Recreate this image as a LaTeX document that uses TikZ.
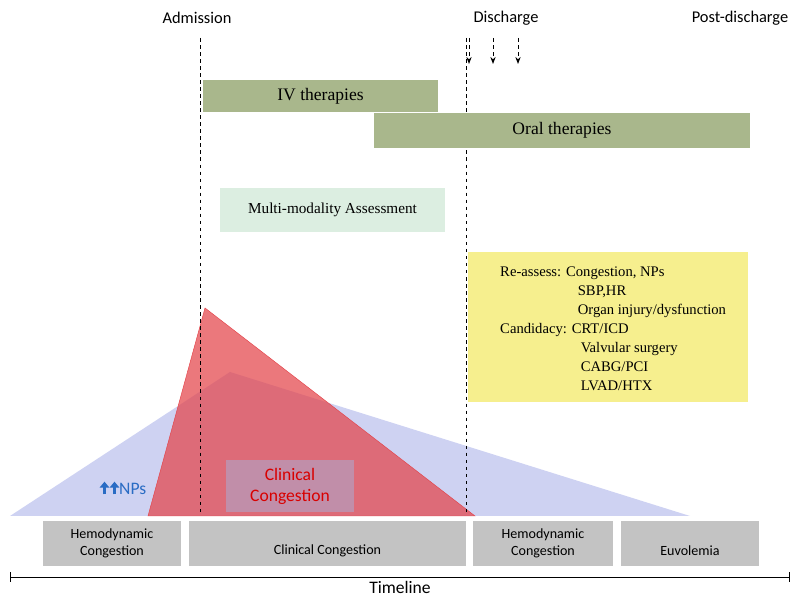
\documentclass[tikz,border=0pt]{standalone}
\usepackage{fontspec}
\setsansfont{Carlito}
\setmainfont{Liberation Serif}
\usetikzlibrary{positioning,arrows.meta}
\definecolor{olivebar}{HTML}{A9B78C}
\definecolor{mintbox}{HTML}{DCEEE1}
\definecolor{notebox}{HTML}{F6EF8E}
\definecolor{stagebox}{HTML}{C3C3C3}
\definecolor{npblue}{HTML}{2A6CC4}
\definecolor{npfill}{HTML}{C5CAF0}
\definecolor{congred}{HTML}{E3444A}
\tikzset{
  therapy/.style={fill=olivebar, draw=none, font=\fontsize{15}{18}\selectfont},
  stage/.style={fill=stagebox, draw=white, line width=1pt, font=\sffamily\fontsize{12}{14}\selectfont, align=center},
  event/.style={font=\sffamily\fontsize{14}{17}\selectfont},
  marker/.style={thick, dashed},
}
\begin{document}
\begin{tikzpicture}[x=0.03cm,y=-0.03cm]
  \useasboundingbox (0,0) rectangle (800,598);
  % draw the congestion triangles
  \fill[npfill, opacity=0.85] (10,516) -- (230,372) -- (690,516) -- cycle;
  \filldraw[fill=congred, draw=congred, fill opacity=0.72] (148,516) -- (205,308) -- (475,516) -- cycle;
  \node[fill=gray!70!blue!50, fill opacity=0.55, text opacity=1, minimum width=3.84cm, minimum height=1.56cm,
        text=red!85!black, font=\sffamily\fontsize{15}{18}\selectfont, align=center] (clin) at (290,486) {Clinical\\Congestion};
  \node[text=npblue, font=\sffamily\fontsize{15}{18}\selectfont] (nps) at (123,488)
    {\tikz[baseline=0pt, x=1cm, y=1cm]{\foreach \i in {0,0.3}\draw[npblue, line width=2.2pt, -{Triangle[length=5pt,width=8pt]}] (\i,0) -- (\i,0.38);}NPs};
  % draw the event labels
  \node[event] (adm) at (197,18) {Admission};
  \node[event] (dis) at (506,18) {Discharge};
  \node[event] (post) at (740,18) {Post-discharge};
  \coordinate (a0) at (200,38); \coordinate (a1) at (200,516);
  \coordinate (d0) at (466,38); \coordinate (d1) at (466,516);
  \draw[marker] (a0) -- (a1);
  \draw[marker] (d0) -- (d1);
  % draw the follow-up arrows
  \foreach \x in {469,493,518}
  {
    \coordinate (f0) at (\x,38); \coordinate (f1) at (\x,64);
    \draw[thick, dashed, -{Stealth[length=6pt]}] (f0) -- (f1);
  }
  % draw the therapies
  \node[therapy, minimum width=7.05cm, minimum height=0.96cm] (iv) at (320.5,96) {IV therapies};
  \node[therapy, minimum width=11.28cm, minimum height=1.05cm] (oral) at (562,130.5) {Oral therapies};
  \node[fill=mintbox, minimum width=6.75cm, minimum height=1.32cm, font=\fontsize{13}{16}\selectfont] (mma) at (332.5,210) {Multi-modality Assessment};
  \node[fill=notebox, minimum width=8.4cm, minimum height=4.5cm] (note) at (608,327) {};
  \node[anchor=north west, align=left, inner sep=0pt, font=\fontsize{12.5}{16.2}\selectfont] (reassess) at (500,267)
    {Re-assess: Congestion, NPs\\
     \hspace*{5.3em}SBP,HR\\
     \hspace*{5.3em}Organ injury/dysfunction\\
     Candidacy: CRT/ICD\\
     \hspace*{5.5em}Valvular surgery\\
     \hspace*{5.5em}CABG/PCI\\
     \hspace*{5.5em}LVAD/HTX};
  % draw the stages
  \node[stage, minimum width=4.2cm, minimum height=1.41cm] (hemo1) at (112,543.5) {Hemodynamic\\Congestion};
  \node[stage, minimum width=8.37cm, minimum height=1.41cm, text height=0.75cm] (clinstage) at (327.5,543.5) {Clinical Congestion};
  \node[stage, minimum width=4.26cm, minimum height=1.41cm] (hemo2) at (543,543.5) {Hemodynamic\\Congestion};
  \node[stage, minimum width=4.2cm, minimum height=1.41cm, text height=0.75cm] (euvo) at (690,543.5) {Euvolemia};
  % draw the timeline
  \coordinate (t0) at (10,577); \coordinate (t1) at (790,577);
  \draw[thick, {Bar[width=8pt]}-{Bar[width=8pt]}] (t0) -- (t1);
  \node[font=\sffamily\fontsize{15}{18}\selectfont] (tl) at (400,587) {Timeline};
\end{tikzpicture}
\end{document}
